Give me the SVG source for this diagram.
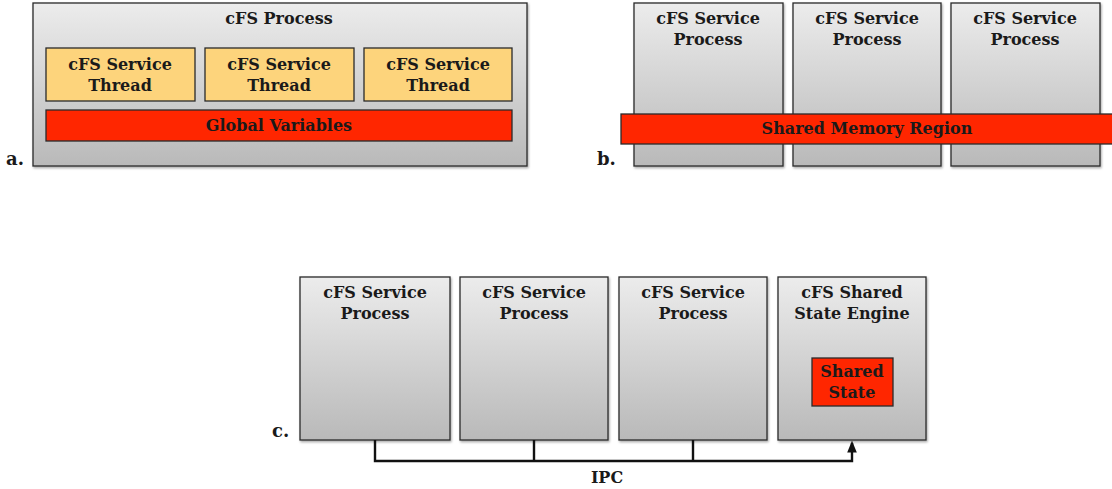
<svg xmlns="http://www.w3.org/2000/svg" width="1112" height="489" viewBox="0 0 1112 489">
<defs>
<linearGradient id="gray" x1="0" y1="0" x2="0" y2="1">
<stop offset="0" stop-color="#ececec"/>
<stop offset="1" stop-color="#b9b9b9"/>
</linearGradient>
<filter id="sh" x="-5%" y="-5%" width="115%" height="115%">
<feDropShadow dx="1" dy="1.5" stdDeviation="1" flood-color="#000" flood-opacity="0.35"/>
</filter>
<marker id="arr" viewBox="0 0 10 10" refX="8" refY="5" markerWidth="5" markerHeight="5" orient="auto">
<path d="M0,1 L10,5 L0,9 z" fill="#111"/>
</marker>
</defs>
<style>
.box{fill:url(#gray);stroke:#2a2a2a;stroke-width:1.3;filter:url(#sh)}
.thr{fill:#fdd47c;stroke:#2a2a2a;stroke-width:1.3}
.red{fill:#ff2600;stroke:#2a2a2a;stroke-width:1.3}
text{font-family:"DejaVu Serif","Liberation Serif",serif;font-weight:bold;font-size:16px;fill:#1a1a1a;text-anchor:middle}
.lab{font-size:18px;text-anchor:start}
.conn{fill:none;stroke:#111;stroke-width:2.4}
</style>

<g id="panel-a">
<rect class="box" x="33" y="3" width="494" height="163"/>
<text x="279" y="24">cFS Process</text>
<g id="thread1"><rect class="thr" x="46" y="48" width="149" height="53"/><text x="120" y="70">cFS Service</text><text x="120" y="91">Thread</text></g>
<g id="thread2"><rect class="thr" x="205" y="48" width="149" height="53"/><text x="279" y="70">cFS Service</text><text x="279" y="91">Thread</text></g>
<g id="thread3"><rect class="thr" x="364" y="48" width="148" height="53"/><text x="438" y="70">cFS Service</text><text x="438" y="91">Thread</text></g>
<g id="globals"><rect class="red" x="46" y="110" width="466" height="31"/><text x="279" y="131">Global Variables</text></g>
<text class="lab" x="6" y="165">a.</text>
</g>

<g id="panel-b">
<g id="bproc1"><rect class="box" x="634" y="3" width="149" height="163"/><text x="708" y="24">cFS Service</text><text x="708" y="45">Process</text></g>
<g id="bproc2"><rect class="box" x="793" y="3" width="148" height="163"/><text x="867" y="24">cFS Service</text><text x="867" y="45">Process</text></g>
<g id="bproc3"><rect class="box" x="951" y="3" width="149" height="163"/><text x="1025" y="24">cFS Service</text><text x="1025" y="45">Process</text></g>
<g id="shm"><rect class="red" x="621" y="114" width="495" height="30"/><text x="867" y="134">Shared Memory Region</text></g>
<text class="lab" x="597" y="165">b.</text>
</g>

<g id="panel-c">
<g id="cproc1"><rect class="box" x="300" y="277" width="150" height="163"/><text x="375" y="298">cFS Service</text><text x="375" y="319">Process</text></g>
<g id="cproc2"><rect class="box" x="460" y="277" width="148" height="163"/><text x="534" y="298">cFS Service</text><text x="534" y="319">Process</text></g>
<g id="cproc3"><rect class="box" x="619" y="277" width="148" height="163"/><text x="693" y="298">cFS Service</text><text x="693" y="319">Process</text></g>
<g id="engine"><rect class="box" x="778" y="277" width="148" height="163"/><text x="852" y="298">cFS Shared</text><text x="852" y="319">State Engine</text></g>
<g id="state"><rect class="red" x="812" y="358" width="81" height="48"/><text x="852" y="377">Shared</text><text x="852" y="398">State</text></g>
<text class="lab" x="272" y="437">c.</text>
</g>

<g id="connectors">
<path class="conn" d="M375,440 V461 H852 V443" marker-end="url(#arr)"/>
<path class="conn" d="M534,440 V461"/>
<path class="conn" d="M693,440 V461"/>
<text x="607" y="483">IPC</text>
</g>
</svg>
